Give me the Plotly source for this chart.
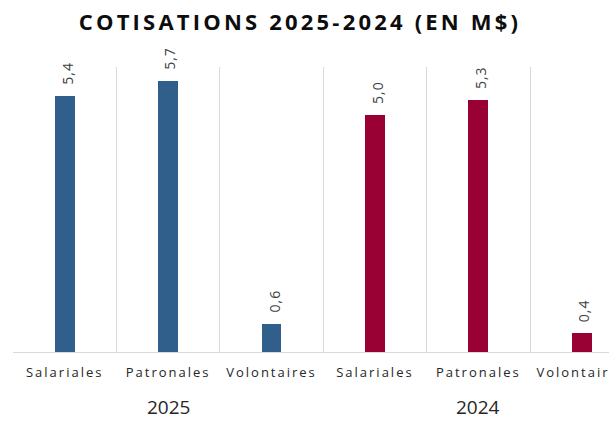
import plotly.graph_objects as go

years = ["2025", "2024"]
categories = ["Salariales", "Patronales", "Volontaires"]
values_2025 = [5.4, 5.7, 0.6]
values_2024 = [5.0, 5.3, 0.4]
colors = {"2025": "#2F5F8A", "2024": "#990033"}

W, H = 609, 423
PLOT_TOP, PLOT_BOTTOM, PLOT_LEFT = 67, 352, 13


def spaced(txt, px):
    return f'<span style="letter-spacing:{px}px">{txt}</span>'


fig = go.Figure()
all_vals = {"2025": values_2025, "2024": values_2024}
tickvals, ticktext = [], []
pos = 0
annotations = []
plot_h = PLOT_BOTTOM - PLOT_TOP
for yr in years:
    xs = list(range(pos, pos + len(categories)))
    vals = all_vals[yr]
    fig.add_trace(go.Bar(
        x=xs, y=vals, width=0.19, marker=dict(color=colors[yr], line=dict(width=0)),
        showlegend=False, hoverinfo="skip",
    ))
    for x, v in zip(xs, vals):
        annotations.append(dict(
            x=x, y=v, xref="x", yref="y",
            text=spaced(f"{v:.1f}".replace(".", ","), 1),
            textangle=-90, showarrow=False, yanchor="bottom", xanchor="center",
            yshift=9, xshift=2, font=dict(family="Open Sans", size=14, color="#404040"),
        ))
    tickvals += xs
    ticktext += [spaced(c, 2) for c in categories]
    annotations.append(dict(
        x=(xs[0] + xs[-1]) / 2, y=-(H - PLOT_BOTTOM - 1) / plot_h, xref="x", yref="paper",
        text=yr, showarrow=False, font=dict(family="Open Sans", size=19, color="#262626"),
        yanchor="bottom",
    ))
    pos += len(categories)

boundaries = [i - 0.5 for i in range(pos + 1)]

fig.update_layout(
    width=W, height=H, autosize=False,
    margin=dict(l=PLOT_LEFT, r=0, t=PLOT_TOP, b=H - PLOT_BOTTOM, pad=0),
    paper_bgcolor="white", plot_bgcolor="white",
    title=dict(text="<b>" + spaced("COTISATIONS 2025-2024 (EN M$)", 3.2) + "</b>",
               x=300 / W, xanchor="center",
               y=1 - 22 / H, yanchor="middle", yref="container",
               font=dict(family="Open Sans", size=22, color="#0d0d0d")),
    bargap=0,
    annotations=annotations,
    xaxis=dict(
        range=[-0.5, 5.264], tickvals=tickvals, ticktext=ticktext, automargin=False,
        showgrid=False, zeroline=False, showline=True, linecolor="#d9d9d9", linewidth=1,
        ticks="", ticklabeloverflow="allow", ticklabelstandoff=8,
        tickfont=dict(family="Open Sans", size=13, color="#262626"),
        minor=dict(tickvals=boundaries, showgrid=True, gridcolor="#d9d9d9", gridwidth=1, ticks=""),
    ),
    yaxis=dict(range=[0, 6], visible=False, showgrid=False),
)

fig.write_html(
    "out.html",
    config={"responsive": False, "displayModeBar": False},
    post_script="document.body.style.margin='0';document.body.style.overflow='hidden';",
)
